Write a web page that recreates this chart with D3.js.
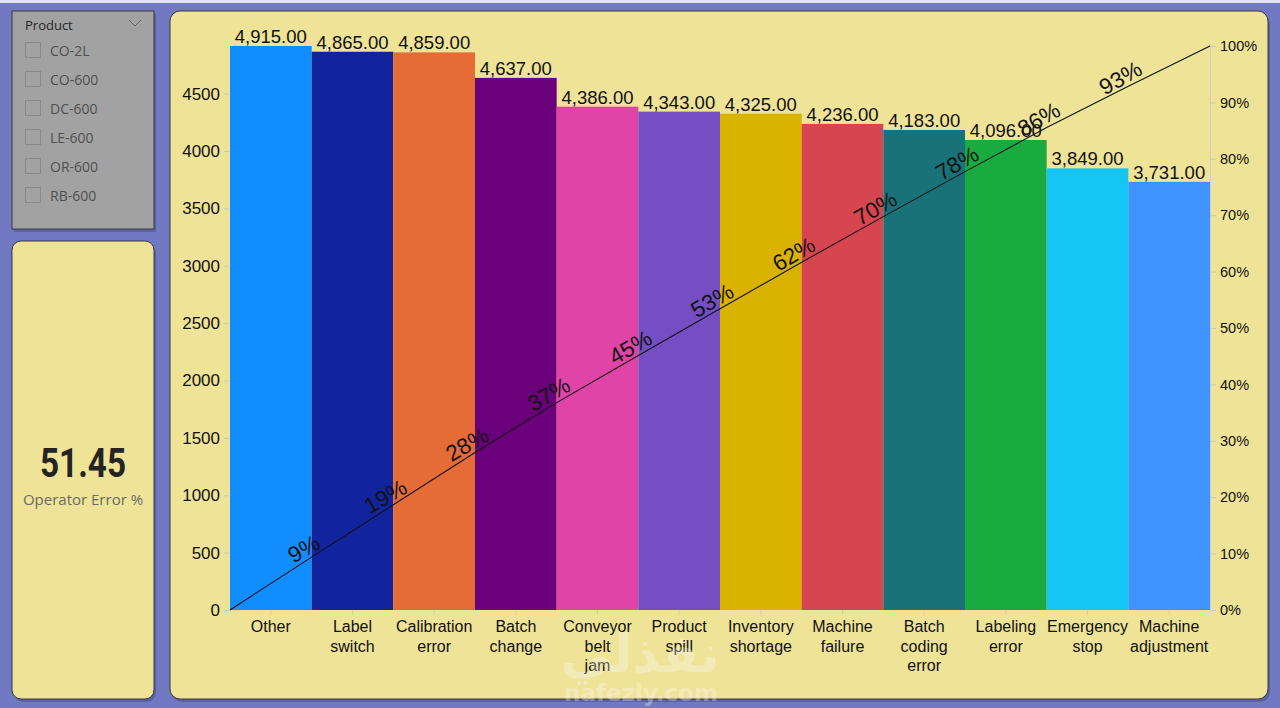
<!DOCTYPE html>
<html>
<head>
<meta charset="utf-8">
<script src="https://cdn.jsdelivr.net/npm/d3@7/dist/d3.min.js"></script>
<style>
  body { margin: 0; background: #7179c3; }
  svg { display: block; }
</style>
</head>
<body>
<div id="chart"></div>
<script>
// Chart data
var categories = ["Other", "Label switch", "Calibration error", "Batch change", "Conveyor belt jam",
    "Product spill", "Inventory shortage", "Machine failure", "Batch coding error", "Labeling error",
    "Emergency stop", "Machine adjustment"];
var counts = [4915, 4865, 4859, 4637, 4386, 4343, 4325, 4236, 4183, 4096, 3849, 3731];
var barColors = ["#118DFF", "#12239E", "#E66C37", "#6B007B", "#E044A7", "#744EC2",
    "#D9B300", "#D64550", "#197278", "#1AAB40", "#15C6F4", "#4092FF"];
var products = ["CO-2L", "CO-600", "DC-600", "LE-600", "OR-600", "RB-600"];
var kpiValue = "51.45";
var kpiLabel = "Operator Error %";

var W = 1280, H = 708;
var svg = d3.select("#chart").append("svg")
    .attr("width", W)
    .attr("height", H);

// background
svg.append("rect").attr("width", W).attr("height", H).attr("fill", "#7179c3");
svg.append("rect").attr("width", W).attr("height", 3).attr("fill", "#e4e4ee");

// panel helper: shadow + rounded box
function panel(x, y, w, h, r, fill) {
    svg.append("rect")
        .attr("x", x + 2).attr("y", y + 3).attr("width", w).attr("height", h)
        .attr("rx", r).attr("fill", "#565c9c").attr("opacity", 0.8);
    svg.append("rect")
        .attr("x", x).attr("y", y).attr("width", w).attr("height", h)
        .attr("rx", r).attr("fill", fill)
        .attr("stroke", "#3a3a3a").attr("stroke-width", 1);
}

// Slicer
panel(12, 11, 142, 218, 0, "#a2a2a2");
svg.append("text")
    .attr("x", 25).attr("y", 30)
    .style("font-family", "'Open Sans', sans-serif").style("font-size", "13px")
    .attr("fill", "#252525")
    .text("Product");
svg.append("path")
    .attr("d", "M129,20 L135,26 L141,20")
    .attr("fill", "none").attr("stroke", "#6a6a6a").attr("stroke-width", 1);

var items = svg.selectAll(".item")
    .data(products)
    .enter().append("g")
    .attr("class", "item")
    .attr("transform", function (d, i) { return "translate(0," + (42 + i * 29) + ")"; });
items.append("rect")
    .attr("x", 25.5).attr("y", 0.5).attr("width", 15).attr("height", 15)
    .attr("fill", "none").attr("stroke", "#8a8a8a");
items.append("text")
    .attr("x", 50).attr("y", 13.5)
    .style("font-family", "'Open Sans', sans-serif").style("font-size", "14px")
    .attr("fill", "#505050")
    .text(function (d) { return d; });

// KPI card
panel(12, 241, 142, 458, 9, "#efe398");
svg.append("text")
    .attr("x", 83).attr("y", 477)
    .attr("text-anchor", "middle")
    .attr("textLength", 86).attr("lengthAdjust", "spacingAndGlyphs")
    .style("font-family", "Roboto, sans-serif").style("font-size", "40px").style("font-weight", "bold")
    .attr("fill", "#252423")
    .text(kpiValue);
svg.append("text")
    .attr("x", 83).attr("y", 505)
    .attr("text-anchor", "middle")
    .style("font-family", "'Open Sans', sans-serif").style("font-size", "15px")
    .attr("fill", "#6a6a6a")
    .text(kpiLabel);

// Main chart panel
panel(170, 11, 1098, 688, 10, "#efe398");

var plot = { left: 230, right: 1210, top: 46, bottom: 610 };

var x = d3.scaleBand().domain(categories).range([plot.left, plot.right]).padding(0);
var y = d3.scaleLinear().domain([0, d3.max(counts)]).range([plot.bottom, plot.top]);
var yPct = d3.scaleLinear().domain([0, 1]).range([plot.bottom, plot.top]);

var data = categories.map(function (c, i) { return { name: c, value: counts[i], color: barColors[i] }; });
var total = d3.sum(counts);
var running = 0;
data.forEach(function (d) { running += d.value; d.cum = running / total; });

var g = svg.append("g");

// Bars
g.selectAll(".bar")
    .data(data)
    .enter().append("rect")
    .attr("class", "bar")
    .attr("x", function (d) { return x(d.name); })
    .attr("width", x.bandwidth())
    .attr("y", function (d) { return y(d.value); })
    .attr("height", function (d) { return plot.bottom - y(d.value); })
    .attr("fill", function (d) { return d.color; });

// Left axis
var leftAxis = g.append("g")
    .attr("transform", "translate(" + (plot.left - 1) + ",0)")
    .call(d3.axisLeft(y).ticks(10).tickFormat(d3.format("d")).tickSize(5).tickPadding(4));
leftAxis.select(".domain").remove();
leftAxis.selectAll(".tick line").attr("stroke", "#c8c8c8");
leftAxis.selectAll(".tick text")
    .style("font-family", "Arial, 'Liberation Sans', sans-serif").style("font-size", "17px")
    .attr("fill", "#111");

// Right axis
var rightAxis = g.append("g")
    .attr("transform", "translate(" + plot.right + ",0)")
    .call(d3.axisRight(yPct).ticks(10).tickFormat(d3.format(".0%")).tickSize(6).tickPadding(4).tickSizeOuter(0));
rightAxis.select(".domain").attr("stroke", "#cfcfcf");
rightAxis.selectAll(".tick line").attr("stroke", "#c8c8c8");
rightAxis.selectAll(".tick text")
    .style("font-family", "Arial, 'Liberation Sans', sans-serif").style("font-size", "14.5px")
    .attr("fill", "#111");

// Bottom axis
var bottomAxis = g.append("g")
    .attr("transform", "translate(0," + plot.bottom + ")")
    .call(d3.axisBottom(x).tickSize(5).tickPadding(0));
bottomAxis.select(".domain").remove();
bottomAxis.selectAll(".tick line").attr("stroke", "#d8d0a0");
bottomAxis.selectAll(".tick text").remove();
bottomAxis.selectAll(".tick").append("text")
    .attr("text-anchor", "middle")
    .style("font-family", "Arial, 'Liberation Sans', sans-serif").style("font-size", "16px")
    .attr("fill", "#111")
    .each(function (d) {
        var t = d3.select(this);
        d.split(" ").forEach(function (w, i) {
            t.append("tspan").attr("x", 0).attr("y", 22 + i * 19.5).text(w);
        });
    });

// Data labels
g.selectAll(".vlabel")
    .data(data)
    .enter().append("text")
    .attr("class", "vlabel")
    .attr("x", function (d) { return x(d.name) + x.bandwidth() / 2; })
    .attr("y", function (d) { return y(d.value) - 3; })
    .attr("text-anchor", "middle")
    .style("font-family", "Arial, 'Liberation Sans', sans-serif").style("font-size", "18.5px")
    .attr("fill", "#111")
    .text(function (d) { return d3.format(",.2f")(d.value); });

// Cumulative line
var linePts = [{ xv: plot.left, yv: 0 }].concat(data.map(function (d) {
    return { xv: x(d.name) + x.bandwidth(), yv: d.cum };
}));
g.append("path")
    .datum(linePts)
    .attr("fill", "none")
    .attr("stroke", "#111")
    .attr("stroke-width", 1.1)
    .attr("d", d3.line().x(function (d) { return d.xv; }).y(function (d) { return yPct(d.yv); }));

// Cumulative labels (rotated along the line)
var angle = Math.atan2(plot.bottom - plot.top, plot.right - plot.left) * 180 / Math.PI;
g.selectAll(".plabel")
    .data(data.slice(0, data.length - 1))
    .enter().append("text")
    .attr("class", "plabel")
    .attr("transform", function (d) {
        return "translate(" + (x(d.name) + x.bandwidth() - 4) + "," + (yPct(d.cum) - 1.5) + ") rotate(" + (-angle) + ")";
    })
    .attr("text-anchor", "middle")
    .style("font-family", "Arial, 'Liberation Sans', sans-serif").style("font-size", "22.5px")
    .attr("fill", "#111")
    .text(function (d) { return d3.format(".0%")(d.cum); });

// Watermark
svg.append("text")
    .attr("x", 640).attr("y", 672)
    .attr("text-anchor", "middle")
    .style("font-family", "'DejaVu Sans', sans-serif").style("font-size", "52px").style("font-weight", "bold")
    .attr("fill", "#ffffff").attr("opacity", 0.3)
    .text("نفذلي");
svg.append("text")
    .attr("x", 641).attr("y", 701)
    .attr("text-anchor", "middle")
    .style("font-family", "'DejaVu Sans', sans-serif").style("font-size", "23px").style("font-weight", "bold")
    .attr("fill", "#ffffff").attr("opacity", 0.3)
    .text("nafezly.com");
</script>
</body>
</html>
